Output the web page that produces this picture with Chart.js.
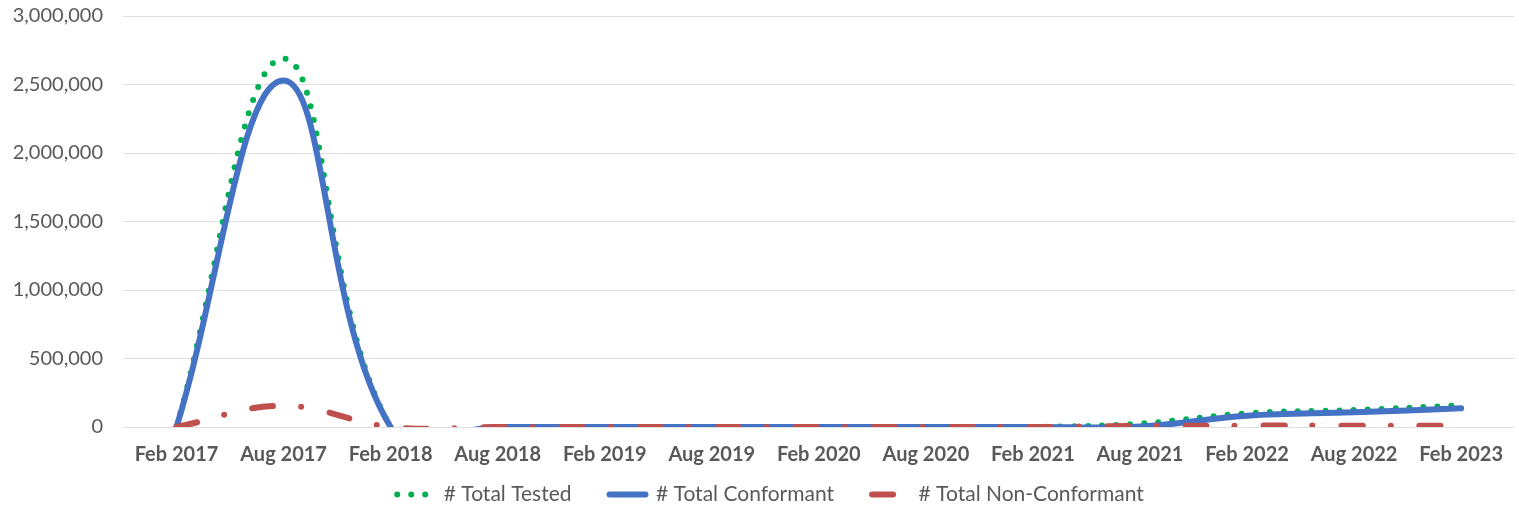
<!DOCTYPE html>
<html>
<head>
<meta charset="utf-8">
<script src="https://cdn.jsdelivr.net/npm/chart.js@4/dist/chart.umd.min.js"></script>
<style>
  html, body { margin: 0; padding: 0; background: #ffffff; }
  #wrap { width: 1519px; height: 507px; position: relative; }
</style>
</head>
<body>
<div id="wrap"><canvas id="c" width="1519" height="507"></canvas></div>
<script>
const categories = ["Feb 2017","Aug 2017","Feb 2018","Aug 2018","Feb 2019","Aug 2019","Feb 2020","Aug 2020","Feb 2021","Aug 2021","Feb 2022","Aug 2022","Feb 2023"];
const totalTested      = [0, 2690000, 0, 0, 0, 0, 0, 0, 0, 25000, 100000, 124000, 158000];
const totalConformant  = [0, 2530000, 0, 0, 0, 0, 0, 0, 0, 3000, 82000, 107000, 136000];
const totalNonConform  = [0, 155000, 0, 0, 0, 0, 0, 0, 0, 8000, 10000, 10000, 10000];
const seriesNames = ["# Total Tested", "# Total Conformant", "# Total Non-Conformant"];
const yTicks = [0, 500000, 1000000, 1500000, 2000000, 2500000, 3000000];

const FONT = "Lato, 'Open Sans', sans-serif";
const TEXT = "#595959";

// keep the legend box small for layout, then place it where the reference shows it
const legendPlace = {
  id: 'legendPlace',
  beforeLayout(chart) {
    const lg = chart.legend;
    if (lg && !lg._patched) {
      const f = lg.fit.bind(lg);
      lg.fit = function () { f(); this.height = 40; };
      lg._patched = true;
    }
  },
  afterLayout(chart) {
    const lg = chart.legend;
    if (lg) { lg.top = 446; lg.bottom = 507; lg.left += 11; lg.right += 11; }
  }
};

new Chart(document.getElementById('c'), {
  type: 'line',
  data: {
    labels: categories,
    datasets: [
      {
        label: seriesNames[0], data: totalTested,
        borderColor: '#00B050', backgroundColor: '#00B050',
        borderWidth: 6, borderDash: [0, 14], borderCapStyle: 'round',
        pointRadius: 0, tension: 0.4, order: 2
      },
      {
        label: seriesNames[1], data: totalConformant,
        borderColor: '#4472C4', backgroundColor: '#4472C4',
        borderWidth: 6, borderDash: [], borderCapStyle: 'round', borderJoinStyle: 'round',
        pointRadius: 0, tension: 0.4, order: 1
      },
      {
        label: seriesNames[2], data: totalNonConform,
        borderColor: '#C0504D', backgroundColor: '#C0504D',
        borderWidth: 6, borderDash: [21, 28, 0, 29], borderCapStyle: 'round',
        pointRadius: 0, tension: 0.4, order: 0
      }
    ]
  },
  options: {
    responsive: false,
    animation: false,
    devicePixelRatio: 1,
    layout: { padding: { top: 16, left: 0, right: 0, bottom: 0 } },
    elements: { line: { capBezierPoints: false } },
    scales: {
      x: {
        offset: true,
        grid: { display: false, drawTicks: false },
        border: { display: false },
        ticks: { color: TEXT, font: { family: FONT, size: 20, weight: 'bold' }, padding: 16, maxRotation: 0, autoSkip: false },
        afterFit(scale) { scale.height = 40; }
      },
      y: {
        min: 0, max: 3000000,
        grid: { color: '#E0E0E0', lineWidth: 1, drawTicks: false },
        border: { display: false },
        afterBuildTicks(scale) { scale.ticks = yTicks.map(v => ({ value: v })); },
        ticks: {
          color: TEXT, font: { family: FONT, size: 20 }, padding: 20,
          callback: v => Number(v).toLocaleString('en-US')
        },
        afterFit(scale) { scale.width = 123; scale.paddingTop = 0; scale.paddingBottom = 0; }
      }
    },
    plugins: {
      tooltip: { enabled: false },
      legend: {
        position: 'bottom',
        labels: {
          usePointStyle: true, pointStyle: 'line', pointStyleWidth: 36,
          padding: 38, color: TEXT, font: { family: FONT, size: 21 },
          sort: (a, b) => a.datasetIndex - b.datasetIndex,
          generateLabels(chart) {
            const items = Chart.defaults.plugins.legend.labels.generateLabels(chart);
            items.forEach(it => {
              const ds = chart.data.datasets[it.datasetIndex];
              it.lineDash = ds.borderDash || [];
              it.lineCap = 'round';
              it.lineWidth = ds.borderWidth;
              it.strokeStyle = ds.borderColor;
              it.pointStyle = 'line';
            });
            return items;
          }
        }
      }
    }
  },
  plugins: [legendPlace]
});
</script>
</body>
</html>
